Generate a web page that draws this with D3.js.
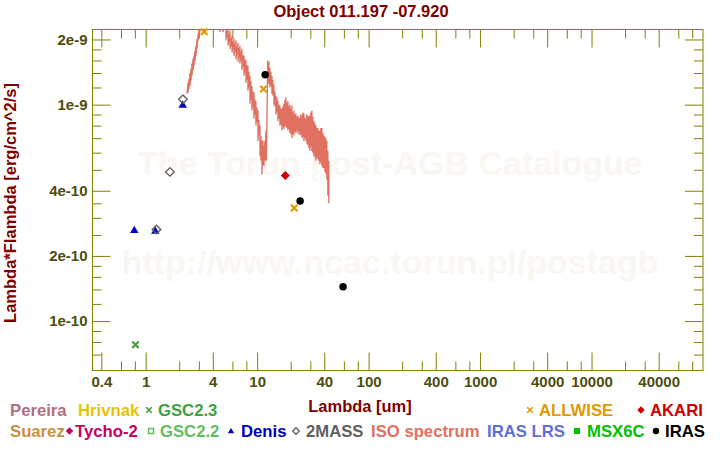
<!DOCTYPE html>
<html><head><meta charset="utf-8">
<script src="https://cdn.jsdelivr.net/npm/d3@7"></script>
<style>
body{margin:0;background:#fff;}
svg text{font-family:"Liberation Sans",Arial,sans-serif;font-weight:bold;}
</style></head><body>
<svg id="c" width="720" height="450"></svg>
<script>
// ---------- data ----------
const chartTitle = "Object 011.197 -07.920";
const xAxisLabel = "Lambda [um]";
const yAxisLabel = "Lambda*Flambda [erg/cm^2/s]";
const watermarkLines = ["The Torun post-AGB Catalogue", "http://www.ncac.torun.pl/postagb"];

const xDomain = [0.3333, 100000];
const yDomain = [5.91e-11, 2.224e-9];

const xMajorTicks = [0.4, 1, 4, 10, 40, 100, 400, 1000, 4000, 10000, 40000];
const xTickLabels = ["0.4", "1", "4", "10", "40", "100", "400", "1000", "4000", "10000", "40000"];
const xMinorTicks = [0.6, 0.8, 2, 3, 6, 8, 20, 30, 60, 80, 200, 300, 600, 800, 2000, 3000, 6000, 8000, 20000, 30000, 60000, 80000];
const yMajorTicks = [1e-10, 2e-10, 4e-10, 1e-9, 2e-9];
const yTickLabels = ["1e-10", "2e-10", "4e-10", "1e-9", "2e-9"];
const yMinorTicks = [7e-11, 8e-11, 9e-11, 1.2e-10, 1.4e-10, 1.6e-10, 1.8e-10, 2.5e-10, 3e-10, 3.5e-10,
  5e-10, 6e-10, 7e-10, 8e-10, 9e-10, 1.2e-9, 1.4e-9, 1.6e-9, 1.8e-9];

// photometry [lambda (um), lambda*F_lambda]
const denisPts = [[0.79, 2.64e-10], [1.22, 2.62e-10], [2.15, 1.0e-9]];
const twoMassPts = [[1.25, 2.65e-10], [1.65, 4.89e-10], [2.16, 1.06e-9]];
const gsc23Pts = [[0.81, 7.77e-11]];
const allwisePts = [[3.35, 2.17e-9], [11.4, 1.18e-9], [21.5, 3.33e-10]];
const irasPts = [[11.8, 1.376e-9], [24.3, 3.59e-10], [59, 1.44e-10]];
const akariPts = [[17.9, 4.7e-10]];

// ISO spectrum [lambda, lambda*F_lambda]
const isoSpectrum = [
  [2.35,1.124e-9],
  [2.40,1.264e-9],[2.40,1.136e-9],[2.45,1.318e-9],[2.45,1.186e-9],
  [2.50,1.405e-9],[2.50,1.224e-9],[2.55,1.466e-9],[2.55,1.291e-9],
  [2.60,1.547e-9],[2.60,1.361e-9],[2.66,1.632e-9],[2.66,1.436e-9],
  [2.71,1.684e-9],[2.71,1.514e-9],[2.77,1.776e-9],[2.77,1.597e-9],
  [2.83,1.873e-9],[2.83,1.684e-9],[2.89,2.017e-9],[2.89,1.814e-9],
  [2.95,2.128e-9],[2.95,1.975e-9],[3.01,2.25e-9],[3.01,2.06e-9],
  [3.2,2.5e-9],[3.4,2.7e-9],[3.7,2.9e-9],[4.0,2.95e-9],[4.3,2.8e-9],[4.5,2.6e-9],
  [4.64,2.17e-9],[4.8,2.5e-9],[4.94,2.16e-9],[5.1,2.4e-9],
  [5.25,2.40e-9],[5.25,1.98e-9],[5.36,2.20e-9],[5.36,2.05e-9],[5.48,2.30e-9],[5.48,1.87e-9],
  [5.59,2.10e-9],[5.59,1.95e-9],[5.71,2.20e-9],[5.71,1.81e-9],[5.83,2.02e-9],[5.83,1.86e-9],
  [5.95,2.08e-9],[5.95,1.74e-9],[6.07,1.95e-9],[6.07,1.80e-9],[6.20,2.02e-9],[6.20,1.68e-9],
  [6.33,1.90e-9],[6.33,1.75e-9],[6.46,1.98e-9],[6.46,1.62e-9],[6.59,1.85e-9],[6.59,1.70e-9],
  [6.73,1.93e-9],[6.73,1.58e-9],[6.87,1.82e-9],[6.87,1.66e-9],[7.01,1.87e-9],[7.01,1.55e-9],
  [7.16,1.76e-9],[7.16,1.60e-9],[7.31,1.81e-9],[7.31,1.45e-9],[7.46,1.70e-9],[7.46,1.50e-9],
  [7.62,1.68e-9],[7.62,1.36e-9],[7.78,1.62e-9],[7.78,1.40e-9],[7.94,1.60e-9],[7.94,1.26e-9],
  [8.10,1.52e-9],[8.10,1.30e-9],[8.27,1.51e-9],[8.27,1.16e-9],[8.44,1.42e-9],[8.44,1.20e-9],
  [8.62,1.36e-9],[8.62,1.01e-9],[8.80,1.28e-9],[8.80,1.05e-9],[8.98,1.22e-9],[8.98,0.94e-9],
  [9.17,1.15e-9],[9.17,0.97e-9],[9.36,1.14e-9],[9.36,0.86e-9],[9.55,1.06e-9],[9.55,0.90e-9],
  [9.75,1.04e-9],[9.75,0.80e-9],[9.96,0.97e-9],[9.96,0.83e-9],[10.17,0.94e-9],[10.17,0.68e-9],
  [10.38,0.85e-9],[10.38,0.72e-9],[10.60,0.80e-9],[10.60,0.58e-9],
  [10.82,0.719e-9],[10.82,0.551e-9],[11.04,0.682e-9],[11.04,0.475e-9],
  [11.27,0.682e-9],[11.27,0.523e-9],[11.51,0.647e-9],[11.51,0.523e-9],
  [11.75,0.682e-9],[11.75,0.551e-9],[11.99,0.759e-9],[12.1,0.551e-9],
  [12.45,1.60e-9],[12.50,1.26e-9],[12.76,1.58e-9],[12.76,1.25e-9],[13.02,1.48e-9],[13.02,1.20e-9],
  [13.29,1.42e-9],[13.29,1.22e-9],[13.57,1.36e-9],[13.57,1.12e-9],[13.85,1.30e-9],[13.85,1.10e-9],
  [14.14,1.24e-9],[14.14,1.00e-9],[14.44,1.15e-9],[14.44,0.98e-9],[14.74,1.10e-9],[14.74,0.90e-9],
  [15.05,1.08e-9],[15.05,0.92e-9],[15.36,1.04e-9],[15.36,0.84e-9],[15.68,1.00e-9],[15.68,0.86e-9],
  [16.01,0.99e-9],[16.01,0.80e-9],[16.34,0.96e-9],[16.34,0.81e-9],[16.68,0.96e-9],[16.68,0.76e-9],
  [17.03,0.98e-9],[17.03,0.79e-9],[17.39,1.01e-9],[17.39,0.77e-9],[17.75,1.05e-9],[17.75,0.80e-9],
  [18.12,1.08e-9],[18.12,0.79e-9],[18.50,1.02e-9],[18.50,0.78e-9],[18.88,1.04e-9],[18.88,0.76e-9],
  [19.27,0.98e-9],[19.27,0.77e-9],[19.67,1.00e-9],[19.67,0.74e-9],[20.08,0.96e-9],[20.08,0.73e-9],
  [20.50,0.99e-9],[20.50,0.70e-9],[20.93,0.92e-9],[20.93,0.73e-9],[21.37,0.94e-9],[21.37,0.72e-9],
  [21.81,0.90e-9],[21.81,0.75e-9],[22.27,0.91e-9],[22.27,0.74e-9],[22.73,0.88e-9],[22.73,0.76e-9],
  [23.21,0.89e-9],[23.21,0.73e-9],[23.69,0.87e-9],[23.69,0.75e-9],[24.18,0.87e-9],[24.18,0.72e-9],
  [24.69,0.90e-9],[24.69,0.73e-9],[25.20,0.89e-9],[25.20,0.70e-9],[25.73,0.92e-9],[25.73,0.71e-9],
  [26.27,0.91e-9],[26.27,0.68e-9],[26.81,0.87e-9],[26.81,0.70e-9],[27.37,0.86e-9],[27.37,0.68e-9],
  [27.94,0.90e-9],[27.94,0.66e-9],[28.52,0.89e-9],[28.52,0.65e-9],[29.12,0.88e-9],[29.12,0.63e-9],
  [29.73,0.89e-9],[29.73,0.61e-9],[30.35,0.92e-9],[30.35,0.64e-9],[30.98,0.94e-9],[30.98,0.61e-9],
  [31.62,0.88e-9],[31.62,0.60e-9],[32.28,0.84e-9],[32.28,0.58e-9],[32.96,0.82e-9],[32.96,0.57e-9],
  [33.65,0.80e-9],[33.65,0.55e-9],[34.35,0.78e-9],[34.35,0.57e-9],[35.06,0.78e-9],[35.06,0.56e-9],
  [35.79,0.76e-9],[35.79,0.55e-9],[36.54,0.76e-9],[36.54,0.53e-9],[37.30,0.78e-9],[37.30,0.54e-9],
  [38.08,0.78e-9],[38.08,0.52e-9],[38.87,0.74e-9],[38.87,0.51e-9],[39.68,0.72e-9],[39.68,0.51e-9],
  [40.51,0.71e-9],[40.51,0.49e-9],[41.35,0.70e-9],[41.35,0.48e-9],[42.22,0.68e-9],[42.22,0.45e-9],
  [43.10,0.61e-9],[43.10,0.38e-9],[44.00,0.55e-9],[44.00,0.35e-9]
];

const legendRow1 = ["Pereira", "Hrivnak", "GSC2.3", "ALLWISE", "AKARI"];
const legendRow2 = ["Suarez", "Tycho-2", "GSC2.2", "Denis", "2MASS", "ISO spectrum", "IRAS LRS", "MSX6C", "IRAS"];

// ---------- styles / layout ----------
const colors = {
  "Pereira":"#b07080","Hrivnak":"#e6c400","GSC2.3":"#40a040","ALLWISE":"#e09a00","AKARI":"#d00000",
  "Suarez":"#c89040","Tycho-2":"#c8005c","GSC2.2":"#60c060","Denis":"#0000c0","2MASS":"#606060",
  "ISO spectrum":"#e07060","IRAS LRS":"#6070d8","MSX6C":"#00c000","IRAS":"#000000"
};
const legendSymbols = {"GSC2.3":"x","ALLWISE":"x","AKARI":"diamond","Tycho-2":"diamond","GSC2.2":"osquare",
  "Denis":"triangle","2MASS":"odiamond","MSX6C":"square","IRAS":"circle"};
const legendTextX = {"Pereira":10,"Hrivnak":78,"GSC2.3":158,"ALLWISE":539,"AKARI":650,
  "Suarez":10,"Tycho-2":75,"GSC2.2":160,"Denis":241,"2MASS":306,"ISO spectrum":371,"IRAS LRS":487,"MSX6C":587,"IRAS":665};
const legendSymX = {"GSC2.3":149,"ALLWISE":530,"AKARI":641,"Tycho-2":69.5,"GSC2.2":151,"Denis":231,"2MASS":296,"MSX6C":577,"IRAS":656};
const rowY = [416, 437];
const legendFont = 16.7;

const L = 92.5, R = 703, T = 29.5, B = 370.5;
const axisColor = "#808000", tickTextColor = "#4d4d10", labelColor = "#800000";

const svg = d3.select("#c");
svg.append("rect").attr("width",720).attr("height",450).attr("fill","#fff");

const x = d3.scaleLog().domain(xDomain).range([L, R]);
const y = d3.scaleLog().domain(yDomain).range([B, T]);

// watermark
svg.selectAll("text.wm").data(watermarkLines).enter().append("text")
  .attr("class","wm").attr("x",390).attr("y",(d,i)=> i===0 ? 175 : 274)
  .attr("text-anchor","middle").attr("font-size",34).attr("fill","#faf7f2").text(d=>d);

// title
svg.append("text").attr("x",361).attr("y",17).attr("text-anchor","middle")
  .attr("font-size",16.5).attr("fill",labelColor).text(chartTitle);

// axes
function styleAxis(g){
  g.select(".domain").remove();
  g.selectAll(".tick line").attr("stroke",axisColor).attr("stroke-width",1);
  g.selectAll(".tick text").attr("fill",tickTextColor).attr("font-size",15)
   .attr("font-family","Liberation Sans").attr("font-weight","bold");
}
svg.append("g").attr("transform",`translate(0,${B})`)
  .call(d3.axisBottom(x).tickValues(xMajorTicks).tickSize(-18).tickPadding(6)
    .tickFormat((d,i)=>xTickLabels[i])).call(styleAxis);
svg.append("g").attr("transform",`translate(0,${B})`)
  .call(d3.axisBottom(x).tickValues(xMinorTicks).tickSize(-9).tickFormat("")).call(styleAxis);
svg.append("g").attr("transform",`translate(0,${T})`)
  .call(d3.axisTop(x).tickValues(xMajorTicks).tickSize(-18).tickFormat("")).call(styleAxis);
svg.append("g").attr("transform",`translate(0,${T})`)
  .call(d3.axisTop(x).tickValues(xMinorTicks).tickSize(-9).tickFormat("")).call(styleAxis);
svg.append("g").attr("transform",`translate(${L},0)`)
  .call(d3.axisLeft(y).tickValues(yMajorTicks).tickSize(-18).tickPadding(5)
    .tickFormat((d,i)=>yTickLabels[i])).call(styleAxis);
svg.append("g").attr("transform",`translate(${L},0)`)
  .call(d3.axisLeft(y).tickValues(yMinorTicks).tickSize(-9).tickFormat("")).call(styleAxis);
svg.append("g").attr("transform",`translate(${R},0)`)
  .call(d3.axisRight(y).tickValues(yMajorTicks).tickSize(-18).tickFormat("")).call(styleAxis);
svg.append("g").attr("transform",`translate(${R},0)`)
  .call(d3.axisRight(y).tickValues(yMinorTicks).tickSize(-9).tickFormat("")).call(styleAxis);

svg.append("rect").attr("x",L).attr("y",T).attr("width",R-L).attr("height",B-T)
  .attr("fill","none").attr("stroke",axisColor).attr("stroke-width",1);

// axis labels
svg.append("text").attr("x",360).attr("y",412).attr("text-anchor","middle")
  .attr("font-size",16.5).attr("fill",labelColor).text(xAxisLabel);
svg.append("text").attr("transform","translate(16,203) rotate(-90)").attr("text-anchor","middle")
  .attr("font-size",16.5).attr("fill",labelColor).text(yAxisLabel);

// clip
svg.append("clipPath").attr("id","clip").append("rect")
  .attr("x",L).attr("y",T).attr("width",R-L).attr("height",B-T);

// ISO spectrum
svg.append("path").datum(isoSpectrum).attr("clip-path","url(#clip)")
  .attr("fill","none").attr("stroke",colors["ISO spectrum"]).attr("stroke-width",1.3)
  .attr("d", d3.line().x(d=>x(d[0])).y(d=>y(d[1])));

// symbol types
const xSym = {draw(ctx, size){ const r = Math.sqrt(size)/2; ctx.moveTo(-r,-r); ctx.lineTo(r,r); ctx.moveTo(r,-r); ctx.lineTo(-r,r);} };
const diamondSym = {draw(ctx, size){ const r = Math.sqrt(size)/2; ctx.moveTo(0,-r); ctx.lineTo(r,0); ctx.lineTo(0,r); ctx.lineTo(-r,0); ctx.closePath(); } };
const triSym = {draw(ctx, size){ const r = Math.sqrt(size)/2; ctx.moveTo(0,-r*0.95); ctx.lineTo(r,r*0.75); ctx.lineTo(-r,r*0.75); ctx.closePath(); } };

function drawMarks(pts, kind, color, s){
  const g = svg.append("g");
  const sel = g.selectAll("path").data(pts).enter().append("path")
    .attr("transform", d=>`translate(${x(d[0])},${y(d[1])})`);
  if(kind==="x") sel.attr("d", d3.symbol().type(xSym).size(s*s)).attr("fill","none").attr("stroke",color).attr("stroke-width",2.2);
  else if(kind==="diamond") sel.attr("d", d3.symbol().type(diamondSym).size(s*s)).attr("fill",color);
  else if(kind==="odiamond") sel.attr("d", d3.symbol().type(diamondSym).size(s*s)).attr("fill","none").attr("stroke",color).attr("stroke-width",1.4);
  else if(kind==="triangle") sel.attr("d", d3.symbol().type(triSym).size(s*s)).attr("fill",color);
  else if(kind==="circle") sel.attr("d", d3.symbol().type(d3.symbolCircle).size(Math.PI*s*s/4)).attr("fill",color);
}
drawMarks(denisPts, "triangle", colors["Denis"], 8.5);
drawMarks(twoMassPts, "odiamond", colors["2MASS"], 8.5);
drawMarks(gsc23Pts, "x", colors["GSC2.3"], 6.5);
drawMarks(allwisePts, "x", colors["ALLWISE"], 6.5);
drawMarks(akariPts, "diamond", colors["AKARI"], 9);
drawMarks(irasPts, "circle", colors["IRAS"], 7.5);

// legend
function legendRow(names, row){
  const yy = rowY[row];
  svg.selectAll(null).data(names).enter().append("text")
    .attr("x", d=>legendTextX[d]).attr("y", yy).attr("font-size",legendFont)
    .attr("fill", d=>colors[d]).text(d=>d);
  const withSym = names.filter(n=>legendSymbols[n]);
  svg.selectAll(null).data(withSym).enter().append("path")
    .attr("transform", d=>`translate(${legendSymX[d]},${yy-6})`)
    .each(function(d){
      const el = d3.select(this), k = legendSymbols[d], c = colors[d];
      if(k==="x") el.attr("d", d3.symbol().type(xSym).size(30)).attr("fill","none").attr("stroke",c).attr("stroke-width",1.7);
      else if(k==="diamond") el.attr("d", d3.symbol().type(diamondSym).size(56)).attr("fill",c);
      else if(k==="odiamond") el.attr("d", d3.symbol().type(diamondSym).size(44)).attr("fill","none").attr("stroke",c).attr("stroke-width",1.3);
      else if(k==="osquare") el.attr("d", d3.symbol().type(d3.symbolSquare).size(25)).attr("fill","none").attr("stroke",c).attr("stroke-width",1.5);
      else if(k==="square") el.attr("d", d3.symbol().type(d3.symbolSquare).size(36)).attr("fill",c);
      else if(k==="triangle") el.attr("d", d3.symbol().type(triSym).size(40)).attr("fill",c);
      else if(k==="circle") el.attr("d", d3.symbol().type(d3.symbolCircle).size(32)).attr("fill",c);
    });
}
legendRow(legendRow1, 0);
legendRow(legendRow2, 1);
</script>
</body></html>
